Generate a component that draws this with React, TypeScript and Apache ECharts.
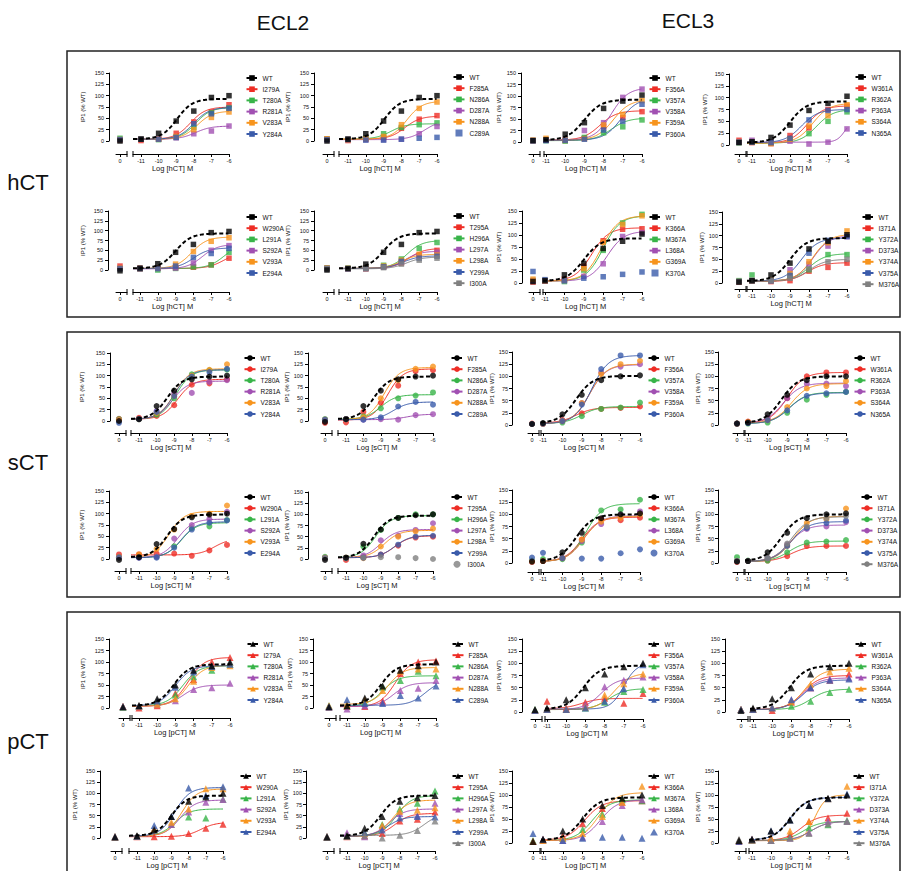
import React, { useEffect, useRef } from 'react';
import * as echarts from 'echarts';

// ---------------- data ----------------
// x positions of the concentration points (log M); the first value of every
// value row is the basal ("0") point, then -11 … -6
const doseLogM = [-11, -10, -9, -8, -7, -6];

const ecl2aNames = ['WT', 'I279A', 'T280A', 'R281A', 'V283A', 'Y284A'];
const ecl2bNames = ['WT', 'F285A', 'N286A', 'D287A', 'N288A', 'C289A'];
const ecl2cNames = ['WT', 'W290A', 'L291A', 'S292A', 'V293A', 'E294A'];
const ecl2dNames = ['WT', 'T295A', 'H296A', 'L297A', 'L298A', 'Y299A', 'I300A'];
const ecl3aNames = ['WT', 'F356A', 'V357A', 'V358A', 'F359A', 'P360A'];
const ecl3bNames = ['WT', 'W361A', 'R362A', 'P363A', 'S364A', 'N365A'];
const ecl3cNames = ['WT', 'K366A', 'M367A', 'L368A', 'G369A', 'K370A'];
const ecl3dNames = ['WT', 'I371A', 'Y372A', 'D373A', 'Y374A', 'V375A', 'M376A'];

// fits: [bottom, top, logEC50, hillSlope?]; null = no curve
// ---- hCT ----
const hctE2aVals = [[0, 4, 17, 44, 66, 96, 100], [3, 1, 5, 17, 42, 64, 80], [6, 4, 3, 8, 30, 62, 73], [3, 4, 4, 7, 16, 22, 33], [3, 4, 4, 10, 25, 52, 64], [3, 4, 4, 8, 38, 60, 72]];
const hctE2aFits = [[4, 93, -8.95], [4, 75, -8.2], [4, 74, -7.9], [4, 33, -7.9], [4, 66, -7.8], [4, 74, -8.0]];
const hctE2bVals = [[0, 4, 16, 44, 66, 96, 100], [4, 1, 4, 8, 28, 48, 56], [4, 4, 6, 16, 30, 36, 40], [3, 4, 3, 3, 4, 16, 32], [5, 3, 5, 10, 36, 72, 86], [3, 3, 2, 2, 4, 6, 8]];
const hctE2bFits = [[4, 93, -8.95], [4, 55, -7.8], [4, 38, -8.6], [3, 45, -6.7], [4, 88, -7.7], null];
const hctE3aVals = [[3, 5, 17, 42, 73, 89, 102], [3, 4, 3, 8, 33, 53, 66], [3, 3, 2, 10, 20, 33, 48], [3, 4, 5, 25, 42, 97, 115], [4, 8, 5, 7, 37, 60, 90], [3, 3, 4, 6, 26, 45, 82]];
const hctE3aFits = [[4, 92, -9.0], [4, 68, -8.2], [3, 52, -7.6], [4, 118, -7.6], [4, 92, -7.5], [4, 95, -7.1]];
const hctE3bVals = [[5, 7, 16, 42, 73, 88, 103], [10, 5, 3, 20, 36, 75, 82], [5, 6, 5, 12, 24, 50, 70], [6, 10, 6, 8, 2, 6, 34], [6, 6, 3, 12, 40, 62, 85], [6, 6, 5, 14, 53, 73, 75]];
const hctE3bFits = [[5, 92, -9.0], [4, 83, -8.1], [4, 75, -7.6], [6, 55, -6.1, 2], [4, 88, -7.8], [5, 75, -8.4]];
const hctE2cVals = [[-2, 5, 16, 45, 65, 95, 98], [10, 4, 4, 6, 7, 13, 30], [4, 3, 0, 4, 8, 13, 45], [4, 3, 4, 5, 18, 50, 62], [4, 3, 5, 15, 47, 73, 82], [3, 3, 4, 10, 32, 42, 55]];
const hctE2cFits = [[4, 93, -9.0], [4, 45, -6.3], [4, 65, -6.3], [3, 65, -7.5], [4, 84, -8.1], [4, 56, -8.0]];
const hctE2dVals = [[0, 4, 15, 45, 65, 95, 98], [5, 3, 3, 8, 18, 38, 50], [5, 4, 5, 12, 28, 55, 70], [4, 3, 4, 8, 20, 35, 45], [4, 4, 5, 10, 25, 40, 38], [3, 3, 4, 8, 22, 30, 35], [3, 3, 3, 6, 15, 25, 30]];
const hctE2dFits = [[4, 93, -9.0], [4, 55, -7.6], [4, 75, -7.7], [4, 48, -7.8], [4, 40, -8.0], [4, 36, -7.9], [3, 33, -7.7]];
const hctE3cVals = [[3, 5, 17, 41, 72, 87, 102], [2, 4, 8, 35, 88, 112, 113], [5, 4, 3, 27, 68, 125, 143], [5, 4, 5, 14, 40, 97, 105], [8, 5, 6, 30, 85, 122, 140], [24, 7, 5, 10, 13, 18, 23]];
const hctE3cFits = [[4, 93, -9.0], [4, 115, -8.6], [4, 140, -8.0], [4, 108, -7.8], [4, 140, -8.1], null];
const hctE3dVals = [[2, 5, 17, 42, 72, 88, 102], [2, 4, 3, 5, 25, 33, 42], [5, 17, 5, 15, 28, 60, 60], [3, 5, 5, 28, 40, 78, 98], [3, 5, 6, 20, 45, 85, 110], [3, 5, 5, 16, 63, 90, 98], [3, 4, 5, 10, 30, 45, 50]];
const hctE3dFits = [[4, 95, -9.0], [3, 43, -8.1], [4, 62, -8.0], [4, 100, -7.8], [4, 103, -7.8], [4, 95, -8.4], [4, 50, -8.0]];
// ---- sCT ----
const sctE2aVals = [[0, 4, 33, 67, 92, 98, 100], [5, 7, 11, 35, 80, 83, 92], [4, 4, 14, 50, 103, 112, 113], [2, 5, 22, 60, 62, 86, 90], [2, 4, 18, 55, 100, 113, 125], [-4, 4, 20, 55, 98, 108, 115]];
const sctE2aFits = [[4, 98, -9.4], [4, 92, -8.8], [4, 113, -8.9], [4, 88, -9.1], [4, 115, -9.0], [4, 113, -9.0]];
const sctE2bVals = [[-2, 4, 33, 67, 92, 98, 100], [-4, -3, 20, 40, 78, 110, 112], [4, 4, 10, 28, 50, 56, 63], [2, 4, 3, 4, 3, 13, 15], [3, 4, 8, 50, 90, 115, 120], [3, 4, 3, 8, 32, 42, 36]];
const sctE2bFits = [[4, 98, -9.4], [2, 115, -8.6], [4, 58, -9.0], [3, 15, -7.5], [3, 118, -8.8], [3, 42, -8.3]];
const sctE3aVals = [[2, 4, 22, 62, 92, 100, 102], [3, 2, 10, 24, 33, 35, 38], [2, 3, 5, 18, 33, 36, 46], [2, 3, 8, 45, 108, 120, 125], [2, 3, 8, 45, 105, 125, 132], [2, 3, 8, 42, 115, 143, 143]];
const sctE3aFits = [[4, 101, -9.3], [4, 36, -9.3], [3, 38, -9.0], [3, 124, -8.6], [3, 125, -8.6], [3, 143, -8.5]];
const sctE3bVals = [[3, 5, 22, 62, 92, 100, 100], [3, 7, 12, 55, 100, 108, 108], [3, 3, 5, 25, 52, 62, 68], [3, 5, 15, 55, 85, 85, 80], [3, 6, 10, 37, 75, 80, 90], [3, 4, 10, 30, 60, 65, 68]];
const sctE3bFits = [[4, 100, -9.3], [4, 108, -9.0], [3, 67, -8.9], [4, 86, -9.2], [4, 85, -8.8], [3, 66, -8.9]];
const sctE2cVals = [[-2, 4, 33, 66, 92, 98, 100], [10, 10, 12, 12, 7, 19, 31], [4, 4, 5, 28, 68, 72, 86], [3, 3, 5, 45, 75, 88, 104], [3, 10, 22, 65, 95, 100, 118], [3, 3, 3, 25, 65, 80, 85]];
const sctE2cFits = [[4, 98, -9.4], [9, 45, -6.7], [3, 80, -8.6], [3, 88, -8.8], [3, 105, -9.3], [3, 82, -8.6]];
const sctE2dVals = [[-2, 3, 34, 66, 92, 98, 100], [2, -2, 4, 10, 30, 48, 50], [5, 3, 28, 65, 92, 100, 100], [3, 3, 8, 42, 52, 65, 80], [3, 3, 2, 28, 50, 62, 68], [2, 2, 3, 10, 32, 50, 52], [2, 2, 3, 4, 4, 2, 0]];
const sctE2dFits = [[3, 97, -9.4], [3, 52, -8.2], [3, 97, -9.3], [3, 66, -9.0], [3, 64, -8.8], [3, 53, -8.2], null];
const sctE3cVals = [[3, 4, 22, 62, 92, 100, 102], [2, 4, 10, 48, 90, 88, 93], [5, 8, 8, 42, 108, 110, 130], [3, 4, 10, 45, 80, 98, 106], [3, 4, 10, 48, 85, 93, 100], [11, 21, 10, 9, 9, 20, 28]];
const sctE3cFits = [[4, 100, -9.3], [3, 94, -9.0], [3, 122, -8.8], [3, 97, -8.9], [3, 96, -8.9], null];
const sctE3dVals = [[3, 4, 22, 62, 92, 100, 102], [2, 4, 5, 14, 35, 35, 35], [12, 5, 5, 22, 42, 44, 47], [4, 4, 10, 38, 70, 75, 84], [4, 4, 10, 35, 82, 90, 112], [4, 4, 10, 35, 72, 82, 87], [4, 4, 10, 40, 75, 92, 97]];
const sctE3dFits = [[4, 100, -9.3], [3, 35, -8.8], [3, 45, -8.9], [3, 78, -8.9], [3, 96, -8.7], [3, 85, -8.8], [3, 95, -8.8]];
// ---- pCT ----
const pctE2aVals = [[2, 5, 20, 50, 82, 92, 100], [3, 0, 5, 32, 62, 100, 110], [2, 5, 13, 28, 68, 82, 95], [3, 5, 8, 16, 40, 44, 54], [3, 5, 8, 20, 58, 88, 92], [3, 5, 15, 45, 78, 90, 95]];
const pctE2aFits = [[5, 95, -9.1], [4, 110, -8.3], [5, 92, -8.6], [4, 50, -8.6], [4, 93, -8.3], [5, 92, -9.0]];
const pctE2bVals = [[2, 5, 22, 48, 82, 92, 100], [3, 3, 3, 15, 75, 100, 102], [5, 5, 12, 45, 60, 80, 70], [2, -2, 5, 12, 38, 43, 60], [5, 8, 18, 38, 80, 85, 85], [3, 18, 10, 10, 27, 22, 48]];
const pctE2bFits = [[5, 95, -9.1], [3, 105, -8.3], [4, 70, -9.0], [3, 55, -8.4], [8, 88, -8.7], [6, 60, -6.6]];
const pctE3aVals = [[5, 8, 25, 50, 78, 93, 100], [3, 22, 8, 20, 28, 18, 38], [5, 5, 5, 8, 20, 42, 46], [3, 5, 5, 15, 52, 65, 72], [3, 5, 5, 10, 35, 58, 78], [3, 5, 5, 8, 22, 48, 97]];
const pctE3aFits = [[6, 95, -9.1], [7, 28, -9.2], [5, 48, -7.8], [5, 70, -8.2], [5, 80, -7.5], [6, 100, -7.0, 1.3]];
const pctE3bVals = [[3, 8, 27, 50, 78, 93, 100], [5, 5, 3, 20, 50, 65, 78], [5, 5, 10, 12, 22, 40, 47], [5, 5, 10, 25, 50, 68, 70], [5, 5, 8, 22, 57, 82, 90], [5, 5, 8, 25, 50, 65, 68]];
const pctE3bFits = [[6, 95, -9.1], [5, 75, -8.4], [5, 47, -8.0], [5, 70, -8.4], [5, 88, -8.3], [5, 66, -8.4]];
const pctE2cVals = [[2, 5, 18, 48, 82, 92, 100], [3, 3, 3, 4, 10, 22, 31], [3, 4, 20, 30, 47, 45, 87], [3, 4, 20, 30, 58, 80, 86], [3, 4, 20, 35, 65, 110, 110], [3, 4, 28, 48, 112, 95, 115]];
const pctE2cFits = [[5, 95, -9.0], [3, 35, -7.3], [4, 65, -8.8], [4, 85, -8.5], [4, 110, -8.4], [4, 113, -8.8]];
const pctE2dVals = [[2, 5, 22, 48, 82, 90, 95], [3, 3, 5, 10, 38, 42, 58], [3, 5, 12, 30, 65, 78, 105], [3, 12, 3, 25, 55, 50, 78], [3, 5, 10, 28, 60, 62, 68], [3, 5, 12, 18, 45, 48, 47], [2, 4, 5, 0, 6, 17, 38]];
const pctE2dFits = [[5, 95, -9.1], [4, 55, -8.3], [4, 95, -8.2], [4, 65, -8.6], [4, 85, -8.4], [4, 48, -8.7], [6, 55, -6.6]];
const pctE3cVals = [[3, 8, 25, 50, 78, 93, 100], [3, 8, 15, 40, 72, 85, 88], [5, 5, 10, 28, 60, 90, 88], [3, 5, 5, 12, 45, 78, 90], [3, 5, 10, 20, 55, 85, 118], [20, 8, 5, 10, 12, 12, 10]];
const pctE3cFits = [[6, 95, -9.0], [6, 88, -8.9], [5, 90, -8.5], [5, 90, -8.1], [5, 105, -8.2], null];
const pctE3dVals = [[5, 8, 25, 48, 78, 93, 100], [3, 8, 10, 18, 45, 52, 62], [5, 5, 5, 12, 32, 38, 47], [5, 5, 5, 10, 22, 45, 45], [5, 5, 10, 25, 45, 92, 118], [3, 8, 25, 48, 78, 92, 102], [8, 5, 5, 10, 20, 40, 45]];
const pctE3dFits = [[6, 95, -9.0], [5, 58, -8.4], [5, 45, -8.3], [5, 45, -7.9], [5, 100, -7.7, 1.5], [6, 95, -9.0], [5, 45, -7.9]];

const panelDefs = [
  { ligand: 'hCT', names: ecl2aNames, values: hctE2aVals, fits: hctE2aFits },
  { ligand: 'hCT', names: ecl2bNames, values: hctE2bVals, fits: hctE2bFits },
  { ligand: 'hCT', names: ecl3aNames, values: hctE3aVals, fits: hctE3aFits },
  { ligand: 'hCT', names: ecl3bNames, values: hctE3bVals, fits: hctE3bFits },
  { ligand: 'hCT', names: ecl2cNames, values: hctE2cVals, fits: hctE2cFits },
  { ligand: 'hCT', names: ecl2dNames, values: hctE2dVals, fits: hctE2dFits },
  { ligand: 'hCT', names: ecl3cNames, values: hctE3cVals, fits: hctE3cFits },
  { ligand: 'hCT', names: ecl3dNames, values: hctE3dVals, fits: hctE3dFits },
  { ligand: 'sCT', names: ecl2aNames, values: sctE2aVals, fits: sctE2aFits },
  { ligand: 'sCT', names: ecl2bNames, values: sctE2bVals, fits: sctE2bFits },
  { ligand: 'sCT', names: ecl3aNames, values: sctE3aVals, fits: sctE3aFits },
  { ligand: 'sCT', names: ecl3bNames, values: sctE3bVals, fits: sctE3bFits },
  { ligand: 'sCT', names: ecl2cNames, values: sctE2cVals, fits: sctE2cFits },
  { ligand: 'sCT', names: ecl2dNames, values: sctE2dVals, fits: sctE2dFits },
  { ligand: 'sCT', names: ecl3cNames, values: sctE3cVals, fits: sctE3cFits },
  { ligand: 'sCT', names: ecl3dNames, values: sctE3dVals, fits: sctE3dFits },
  { ligand: 'pCT', names: ecl2aNames, values: pctE2aVals, fits: pctE2aFits },
  { ligand: 'pCT', names: ecl2bNames, values: pctE2bVals, fits: pctE2bFits },
  { ligand: 'pCT', names: ecl3aNames, values: pctE3aVals, fits: pctE3aFits },
  { ligand: 'pCT', names: ecl3bNames, values: pctE3bVals, fits: pctE3bFits },
  { ligand: 'pCT', names: ecl2cNames, values: pctE2cVals, fits: pctE2cFits },
  { ligand: 'pCT', names: ecl2dNames, values: pctE2dVals, fits: pctE2dFits },
  { ligand: 'pCT', names: ecl3cNames, values: pctE3cVals, fits: pctE3cFits },
  { ligand: 'pCT', names: ecl3dNames, values: pctE3dVals, fits: pctE3dFits },
];

// ---------------- layout (pixels) ----------------
// [yAxisX, basal0X, xAt-11, xAt-6, mainAxisStartX, yAt150, yAt0, xAxisLineY, legendMarkerX, legendFirstY, yTitleX]
const LAYOUT = [
  [109, 120, 141, 229, 133, 73, 141, 154, 251, 78, 83],
  [314, 327, 348, 437, 339, 73, 141, 154, 458, 77, 288],
  [521, 533, 546, 642, 544, 73, 142, 154, 654, 78, 499],
  [729, 739, 752, 847, 747, 74, 145, 154, 860, 77, 705],
  [108, 120, 140, 229, 133, 211, 270, 292, 251, 217, 83],
  [314, 327, 348, 437, 339, 211, 270, 292, 458, 216, 288],
  [522, 533, 545, 642, 543, 211, 283, 292, 654, 217, 499],
  [722, 739, 752, 847, 747, 212, 283, 289, 867, 217, 704],
  [110, 119, 139, 227, 131, 353, 421, 433, 249, 358, 82],
  [308, 325, 346, 433, 338, 353, 421, 433, 456, 358, 288],
  [512, 532, 543, 640, 541, 352, 425, 433, 653, 358, 497],
  [718, 737, 748, 846, 745, 352, 425, 433, 859, 358, 700],
  [109, 119, 139, 227, 131, 491, 559, 571, 249, 497, 82],
  [308, 325, 346, 433, 338, 492, 559, 571, 456, 497, 288],
  [512, 532, 543, 640, 541, 490, 563, 572, 653, 497, 497],
  [718, 737, 748, 846, 745, 490, 563, 572, 866, 497, 700],
  [109, 123, 139, 230, 132, 639, 708, 718, 252, 644, 83],
  [313, 329, 347, 436, 340, 639, 708, 718, 457, 644, 290],
  [522, 535, 547, 643, 545, 639, 712, 719, 653, 644, 499],
  [725, 741, 753, 849, 750, 639, 712, 719, 860, 644, 703],
  [100, 115, 137, 223, 129, 771, 838, 851, 245, 776, 75],
  [306, 327, 347, 435, 340, 771, 838, 851, 457, 776, 288],
  [512, 533, 543, 642, 541, 771, 843, 851, 653, 776, 497],
  [718, 739, 752, 847, 749, 771, 843, 851, 858, 776, 700],
];

const FONT = '"Liberation Sans", Arial, Helvetica, sans-serif';
const PALETTE = ['#000000', '#EE2D25', '#38B449', '#A150B2', '#F7941D', '#3A5BAA', '#808080'];
const SYMBOLS: Record<string, string> = { hCT: 'rect', sCT: 'circle', pCT: 'triangle' };
const SYMBOL_SIZE: Record<string, number> = { hCT: 5.5, sCT: 6, pCT: 7 };
// legend icons for series drawn without a fitted curve (kept square)
const LEGEND_ICON: Record<string, string> = {
  hCT: 'path://M0,0H10V10H0Z',
  sCT: 'circle',
  pCT: 'path://M5,0L10,9L0,9Z',
};

function fitCurve(fit: number[], xmin: number) {
  const [b, t, ec, h = 1] = fit;
  const f = (x: number) => b + (t - b) / (1 + Math.pow(10, (ec - x) * h));
  const pts: number[][] = [];
  for (let x = xmin; x < -6; x += 0.04) pts.push([x, f(x)]);
  pts.push([-6, f(-6)]);
  return pts;
}

function buildOption() {
  const grid: any[] = [];
  const xAxis: any[] = [];
  const yAxis: any[] = [];
  const series: any[] = [];
  const legend: any[] = [];
  const graphic: any[] = [];

  const txt = (text: string, x: number, y: number, size: number, extra: any = {}) => ({
    type: 'text', x, y, silent: true,
    style: { text, fontSize: size, fontFamily: FONT, fill: '#111', align: 'center', verticalAlign: 'middle', ...extra },
  });
  const vline = (x: number, y1: number, y2: number) => ({
    type: 'line', silent: true, shape: { x1: x, y1, x2: x, y2 }, style: { stroke: '#000', lineWidth: 1 },
  });

  // headers, row labels and frames
  graphic.push(txt('ECL2', 283, 22, 21));
  graphic.push(txt('ECL3', 688, 20, 21));
  graphic.push(txt('hCT', 28, 182, 22));
  graphic.push(txt('sCT', 28, 462, 22));
  graphic.push(txt('pCT', 28, 741, 22));
  const frame = (y: number, h: number) => ({
    type: 'rect', silent: true, shape: { x: 67, y, width: 833, height: h },
    style: { fill: 'none', stroke: '#222', lineWidth: 1.5 },
  });
  graphic.push(frame(51, 266));
  graphic.push(frame(332, 265));
  graphic.push(frame(612, 280));

  panelDefs.forEach((p, i) => {
    const [yAx, x0, x11, x6, mStart, y150, y0, xAy, legX, legY, yTitleX] = LAYOUT[i];
    const pxPerDecade = (x6 - x11) / 5;
    const mainMin = -11 - (x11 - mStart) / pxPerDecade;
    const gb = i * 2;
    const gm = i * 2 + 1;
    const bl = x0 - 4;
    const h = y0 - y150;
    const axLine = { show: true, onZero: false, lineStyle: { color: '#000', width: 1 } };
    const tick = { show: true, length: 3, inside: false, lineStyle: { color: '#000', width: 1 } };
    const lbl = { fontSize: 5.5, color: '#111', fontFamily: FONT, margin: 4 };
    const nameGap = Math.max(12, yAx - yTitleX - 3);

    grid.push({ left: bl, top: y150, width: 11, height: h, containLabel: false, outerBoundsMode: 'none' });
    grid.push({ left: mStart, top: y150, width: x6 - mStart, height: h, containLabel: false, outerBoundsMode: 'none' });

    xAxis.push({
      gridIndex: gb, type: 'value', min: -1, max: 1.75, position: 'bottom', offset: xAy - y0,
      axisLine: axLine, axisTick: { ...tick, customValues: [0] },
      axisLabel: { ...lbl, customValues: [0], formatter: () => '0' }, splitLine: { show: false },
    });
    xAxis.push({
      gridIndex: gm, type: 'value', min: mainMin, max: -6, position: 'bottom', offset: xAy - y0,
      axisLine: axLine, axisTick: { ...tick, customValues: doseLogM },
      axisLabel: { ...lbl, customValues: doseLogM, formatter: (v: number) => String(Math.round(v)) },
      splitLine: { show: false },
    });
    yAxis.push({
      gridIndex: gb, type: 'value', min: 0, max: 150, interval: 25, position: 'left', offset: bl - yAx,
      name: 'IP1 (% WT)', nameLocation: 'middle', nameGap,
      nameTextStyle: { fontSize: 6, fontFamily: FONT, color: '#111' },
      axisLine: axLine, axisTick: tick, axisLabel: { ...lbl, margin: nameGap < 16 ? 4 : 5 },
      splitLine: { show: false },
    });
    yAxis.push({ gridIndex: gm, type: 'value', min: 0, max: 150, show: false, splitLine: { show: false } });

    // axis break marks and x-axis title
    graphic.push(vline(bl + 11, xAy - 3, xAy + 3));
    graphic.push(vline(mStart, xAy - 3, xAy + 3));
    graphic.push(txt(`Log [${p.ligand}] M`, (bl + x6) / 2, xAy + 14, 7.5));

    const sym = SYMBOLS[p.ligand];
    const ss = SYMBOL_SIZE[p.ligand];
    p.names.forEach((nm, j) => {
      const uname = `${i}|${nm}`;
      const color = PALETTE[j];
      const isWT = j === 0;
      const fit = p.fits[j];
      const v = p.values[j];
      if (fit) {
        series.push({
          type: 'line', name: uname, xAxisIndex: gm, yAxisIndex: gm, data: fitCurve(fit, mainMin),
          symbol: sym, symbolSize: ss, showSymbol: false, silent: true,
          lineStyle: { color, width: isWT ? 2 : 1, type: isWT ? [4, 2.5] : 'solid' },
          itemStyle: { color }, z: isWT ? 6 : 2,
        });
      }
      series.push({
        type: 'scatter', name: uname, xAxisIndex: gm, yAxisIndex: gm, clip: false, silent: true,
        data: doseLogM.map((d, k) => [d, v[k + 1]]),
        symbol: sym, symbolSize: ss, itemStyle: { color }, z: isWT ? 7 : 3,
      });
      series.push({
        type: 'scatter', name: uname, xAxisIndex: gb, yAxisIndex: gb, clip: false, silent: true,
        data: [[0, v[0]]],
        symbol: sym, symbolSize: ss, itemStyle: { color }, z: isWT ? 7 : 3,
      });
    });

    legend.push({
      orient: 'vertical', left: legX - 5.5, top: legY - 4, padding: 0,
      itemWidth: 11, itemHeight: 7, itemGap: 3.2, selectedMode: false,
      data: p.names.map((n, j) => (p.fits[j]
        ? `${i}|${n}`
        : { name: `${i}|${n}`, icon: LEGEND_ICON[p.ligand] })),
      formatter: (n: string) => n.split('|')[1],
      textStyle: { fontSize: 6.5, fontFamily: FONT, color: '#111', lineHeight: 8 },
    });
  });

  return {
    animation: false,
    backgroundColor: '#ffffff',
    grid, xAxis, yAxis, series, legend, graphic,
  };
}

export default function App() {
  const ref = useRef<HTMLDivElement>(null);
  useEffect(() => {
    if (!ref.current) return;
    const chart = echarts.init(ref.current, null, { renderer: 'svg' });
    chart.setOption(buildOption() as any);
    return () => chart.dispose();
  }, []);
  return (
    <div
      ref={ref}
      style={{ position: 'absolute', left: 0, top: 0, width: 902, height: 871, background: '#fff' }}
    />
  );
}
